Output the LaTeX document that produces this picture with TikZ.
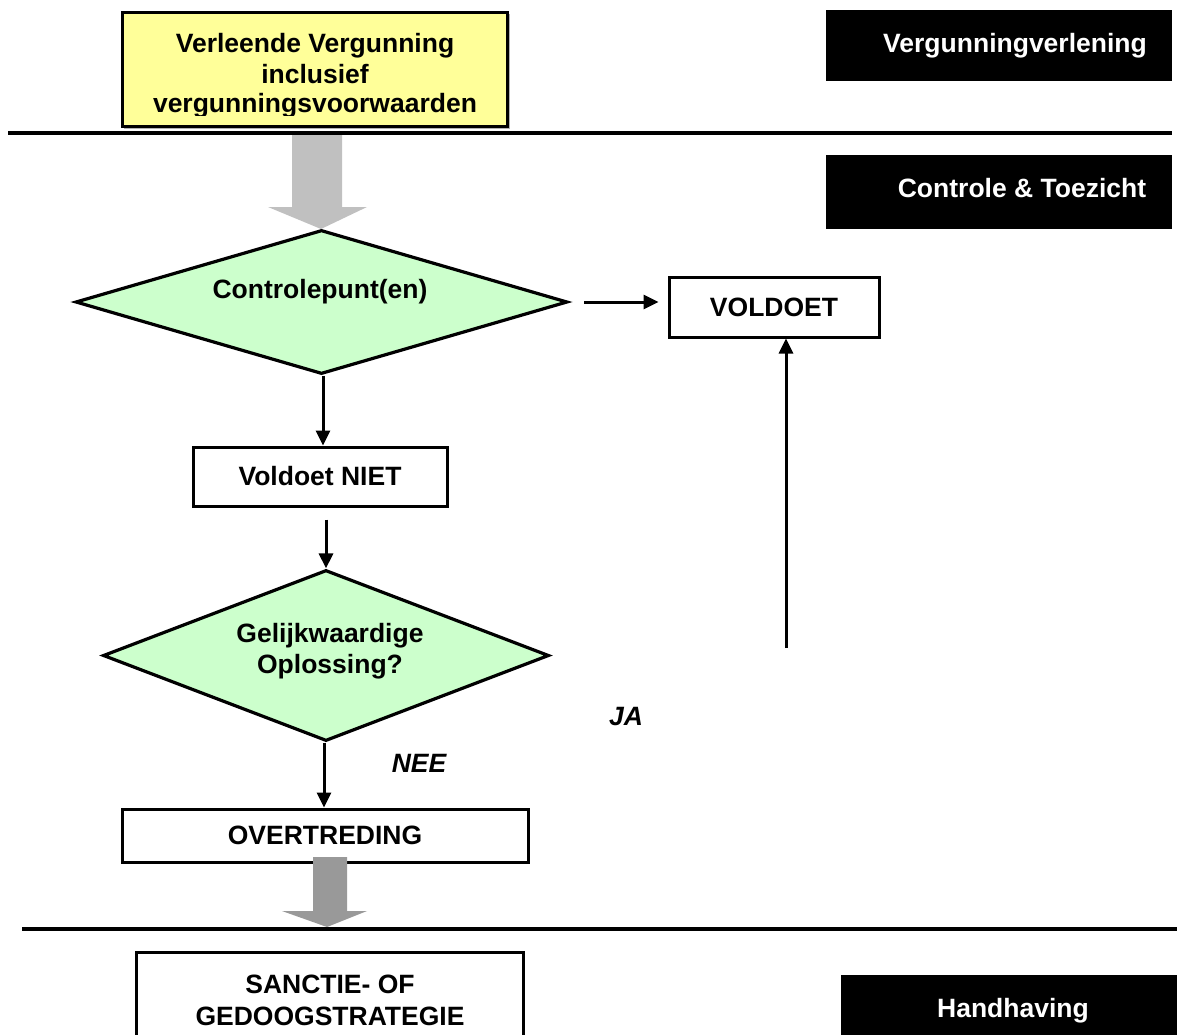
\documentclass[tikz,border=0pt]{standalone}
\usepackage{fontspec}
\setmainfont{Liberation Sans}
\usetikzlibrary{shapes.geometric,arrows.meta}
\definecolor{yel}{HTML}{FFFF99}
\definecolor{grn}{HTML}{CCFFCC}
\definecolor{gray1}{HTML}{C0C0C0}
\definecolor{gray2}{HTML}{999999}
\begin{document}
\begin{tikzpicture}[x=1pt,y=-1pt,
  font=\fontsize{26.5}{31}\selectfont\bfseries,
  box/.style={draw, line width=3pt, fill=white, inner sep=0pt, align=center},
  blk/.style={fill=black, inner sep=0pt},
  wtxt/.style={text=white, inner sep=0pt, anchor=base},
  btxt/.style={inner sep=0pt, anchor=base},
  dia/.style={diamond, draw, line width=3.2pt, fill=grn, inner sep=0pt},
  arr/.style={line width=3pt, -{Triangle[length=15pt,width=14pt]}},
  sep/.style={line width=4pt}]
\useasboundingbox (0,0) rectangle (1177,1034);
\clip (0,0) rectangle (1177,1034);

% separator lines
\coordinate (l1a) at (8,133);
\coordinate (l1b) at (1172,133);
\coordinate (l2a) at (22,929);
\coordinate (l2b) at (1177,929);
\draw[sep] (l1a) -- (l1b);
\draw[sep] (l2a) -- (l2b);

% black section labels
\node[blk, minimum width=346pt, minimum height=71pt] (bvv) at (999,45.5) {};
\node[wtxt] (tvv) at (1015,52) {Vergunningverlening};
\node[blk, minimum width=346pt, minimum height=74pt] (bct) at (999,192) {};
\node[wtxt] (tct) at (1022,197) {Controle \& Toezicht};
\node[blk, minimum width=336pt, minimum height=90pt] (bhh) at (1009,1020) {};
\node[wtxt] (thh) at (1013,1017) {Handhaving};

% yellow permit box
\fill[gray!60] (124,14) rectangle (510,129);
\node[draw, line width=2.5pt, fill=yel, minimum width=385pt, minimum height=114pt, inner sep=0pt] (verg) at (315,69.5) {};
\begin{scope}
\clip (122,12) rectangle (508,115.5);
\node[btxt] (tv1) at (315,52) {Verleende Vergunning};
\node[btxt] (tv2) at (315,83) {inclusief};
\node[btxt] (tv3) at (315,112) {vergunningsvoorwaarden};
\end{scope}

% gray block arrow 1
\fill[gray1] (292,135) -- (342,135) -- (342,207) -- (367,207) -- (321,229) -- (268,207) -- (292,207) -- cycle;

% decision 1
\node[dia, minimum width=492pt, minimum height=144pt] (d1) at (321.5,302) {};
\node[btxt] (td1) at (320,298) {Controlepunt(en)};

% VOLDOET
\node[box, minimum width=210pt, minimum height=60pt] (vold) at (774,307) {VOLDOET};
\coordinate (d1r) at (584,302);
\draw[arr] (d1r) -- ([xshift=-9pt]vold.west |- d1r);

% Voldoet NIET
\node[box, minimum width=254pt, minimum height=59pt] (niet) at (320,476.5) {Voldoet NIET};
\draw[arr] (d1.south -| 323,0) -- (niet.north -| 323,0);

% decision 2
\node[dia, minimum width=446pt, minimum height=171pt] (d2) at (326,655.5) {};
\node[btxt] (td2a) at (330,642) {Gelijkwaardige};
\node[btxt] (td2b) at (330,673) {Oplossing?};
\draw[arr, shorten <=12pt] (niet.south -| d2.north) -- (d2.north);

% JA / NEE
\node[btxt, font=\fontsize{26.5}{31}\selectfont\bfseries\itshape] (ja) at (626,725) {JA};
\node[btxt, font=\fontsize{26.5}{31}\selectfont\bfseries\itshape] (nee) at (419,772) {NEE};

% JA arrow up to VOLDOET
\coordinate (jaup) at (786,648);
\draw[arr] (jaup) -- (vold.south -| jaup);

% OVERTREDING
\node[box, minimum width=406pt, minimum height=53pt] (overt) at (325,835.5) {OVERTREDING};
\draw[arr] (d2.south -| 324,0) -- (overt.north -| 324,0);

% gray block arrow 2
\fill[gray2] (313,857) -- (347,857) -- (347,911) -- (367,911) -- (327,927) -- (282,911) -- (313,911) -- cycle;

% SANCTIE box
\node[draw, line width=3pt, fill=white, minimum width=387pt, minimum height=110pt, inner sep=0pt] (sanc) at (329.5,1007) {};
\node[btxt] (ts1) at (330,993) {SANCTIE- OF};
\node[btxt] (ts2) at (330,1025) {GEDOOGSTRATEGIE};
\end{tikzpicture}
\end{document}
